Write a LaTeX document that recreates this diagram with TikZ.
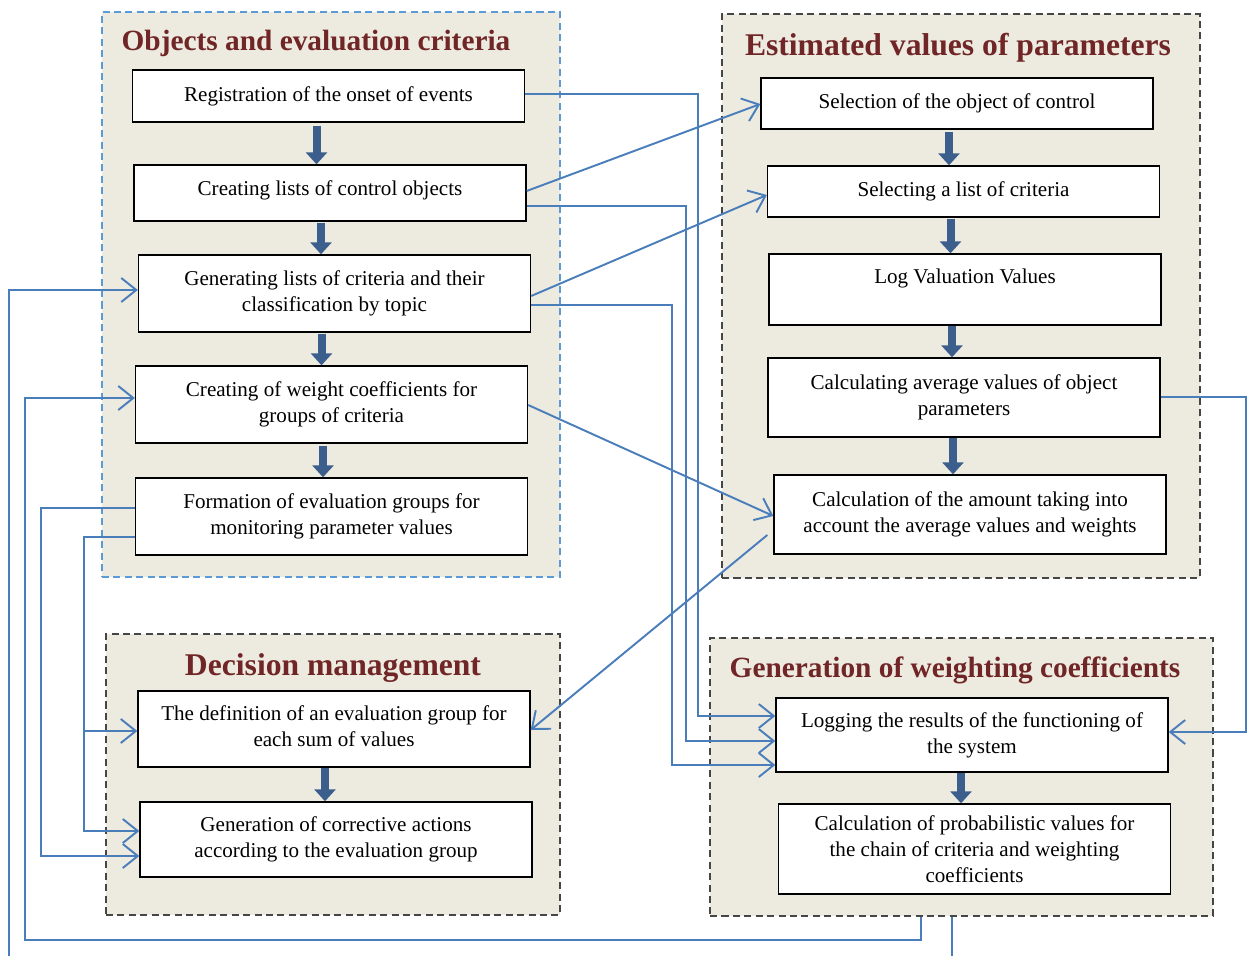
\documentclass[tikz,border=0pt]{standalone}
\usepackage{fontspec}
\setmainfont{Liberation Serif}
\usetikzlibrary{arrows.meta}

\definecolor{panel}{RGB}{237,234,224}
\definecolor{titlered}{RGB}{112,38,38}
\definecolor{flowblue}{RGB}{59,94,140}
\definecolor{linkblue}{RGB}{74,126,187}
\definecolor{frameblue}{RGB}{91,155,213}
\definecolor{framegray}{RGB}{70,70,70}

\begin{document}
\begin{tikzpicture}[x=0.02cm,y=-0.02cm]
	
	\tikzset{group/.style = {draw=framegray,dash pattern=on 4pt off 2.5pt,fill=panel,line width=0.8pt,inner sep=0pt}}
	\tikzset{title/.style = {text=titlered,font=\fontsize{16.7}{20}\selectfont\bfseries}}
	\tikzset{box/.style = {draw,fill=white,line width=0.8pt,minimum width=7.84cm,align=center,inner sep=0pt,font=\fontsize{12}{14.8}\selectfont}}
	\tikzset{flow/.style = {draw=flowblue,line width=0.16cm,-{Triangle[width=0.42cm,length=0.24cm]}}}
	\tikzset{link/.style = {draw=linkblue,line width=1.1pt,-{Straight Barb[width=0.48cm,length=0.3cm]}}}
	
	\clip (0,0) rectangle (1251,956);
	
	% panels
	\node[group,draw=frameblue,minimum width=9.16cm,minimum height=11.3cm] (g1) at (331,294.5) {};
	\node[group,minimum width=9.56cm,minimum height=11.28cm] (g2) at (961,296) {};
	\node[group,minimum width=9.08cm,minimum height=5.62cm] (g3) at (333,774.5) {};
	\node[group,minimum width=10.06cm,minimum height=5.56cm] (g4) at (961.5,777) {};
	
	\node[title] (t1) at (316,43) {Objects and evaluation criteria};
	\node[title,font=\fontsize{18}{21}\selectfont\bfseries] (t2) at (958,48) {Estimated values of parameters};
	\node[title,font=\fontsize{18}{21}\selectfont\bfseries] (t3) at (333,668) {Decision management};
	\node[title] (t4) at (955,670) {Generation of weighting coefficients};
	
	% objects and criteria
	\node[box,minimum height=1.04cm] (reg) at (328.5,96) {Registration of the onset of events};
	\node[box,minimum height=1.12cm,text depth=6pt] (lists) at (330,193) {Creating lists of control objects};
	\node[box,minimum height=1.54cm] (gen) at (334.5,293.5) {Generating lists of criteria and their\\classification by topic};
	\node[box,minimum height=1.54cm] (weight) at (331.5,404.5) {Creating of weight coefficients for\\groups of criteria};
	\node[box,minimum height=1.54cm] (form) at (331.5,516.5) {Formation of evaluation groups for\\monitoring parameter values};
	
	% estimated values
	\node[box,minimum height=1.02cm] (selobj) at (957,103.5) {Selection of the object of control};
	\node[box,minimum height=1.02cm] (sellist) at (963.5,191.5) {Selecting a list of criteria};
	\node[box,minimum height=1.42cm] (logval) at (965,289.5) {Log Valuation Values\\~};
	\node[box,minimum height=1.58cm] (avg) at (964,397.5) {Calculating average values of object\\parameters};
	\node[box,minimum height=1.58cm] (amount) at (970,514.5) {Calculation of the amount taking into\\account the average values and weights};
	
	% decisions
	\node[box,minimum height=1.52cm,text depth=3.5pt] (def) at (334,729) {The definition of an evaluation group for\\each sum of values};
	\node[box,minimum height=1.5cm] (corr) at (336,839.5) {Generation of corrective actions\\according to the evaluation group};
	
	% weighting coefficients
	\node[box,minimum height=1.48cm] (logging) at (972,735) {Logging the results of the functioning of\\the system};
	\node[box,minimum height=1.8cm] (prob) at (974.5,849) {Calculation of probabilistic values for\\the chain of criteria and weighting\\coefficients};
	
	% main flow
	\draw[flow] ([xshift=-0.24cm,yshift=-0.06cm]reg.south) -- ([xshift=-0.24cm]reg.south |- lists.north);
	\draw[flow] ([xshift=-0.18cm,yshift=-0.02cm]lists.south) -- ([xshift=-0.18cm]lists.south |- gen.north);
	\draw[flow] ([xshift=-0.26cm,yshift=-0.02cm]gen.south) -- ([xshift=-0.26cm]gen.south |- weight.north);
	\draw[flow] ([xshift=-0.17cm,yshift=-0.04cm]weight.south) -- ([xshift=-0.17cm]weight.south |- form.north);
	\draw[flow] ([xshift=-0.16cm,yshift=-0.04cm]selobj.south) -- ([xshift=-0.16cm]selobj.south |- sellist.north);
	\draw[flow] ([xshift=-0.26cm,yshift=-0.02cm]sellist.south) -- ([xshift=-0.26cm]sellist.south |- logval.north);
	\draw[flow] ([xshift=-0.26cm]logval.south) -- ([xshift=-0.26cm]logval.south |- avg.north);
	\draw[flow] ([xshift=-0.22cm]avg.south) -- ([xshift=-0.22cm]avg.south |- amount.north);
	\draw[flow] ([xshift=-0.18cm]def.south) -- ([xshift=-0.18cm]def.south |- corr.north);
	\draw[flow] ([xshift=-0.22cm]logging.south) -- ([xshift=-0.22cm]logging.south |- prob.north);
	
	% links between panels
	\draw[link] (reg.east |- 0,94) -| (698,716) -- (logging.west |- 0,716);
	\draw[link] (lists.east |- 0,191) -- (selobj.west |- 0,104);
	\draw[link] (lists.east |- 0,206) -| (686,741) -- (logging.west |- 0,741);
	\draw[link] (gen.east |- 0,296) -- (sellist.west |- 0,195);
	\draw[link] (gen.east |- 0,305) -| (672,765) -- (logging.west |- 0,765);
	\draw[link] (weight.east |- 0,405) -- (amount.west |- 0,516);
	\draw[link] ([xshift=-0.12cm]amount.west |- 0,535) -- (def.east |- 0,730);
	\draw[link] (avg.east |- 0,397) -| (1246,732) -- (logging.east |- 0,732);
	\draw[link] (form.west |- 0,508) -| (41,856) -- (corr.west |- 0,856);
	\draw[link] (form.west |- 0,537) -| (84,831) -- (corr.west |- 0,831);
	\coordinate (split) at (84,731);
	\draw[link] (split) -- (def.west |- split);
	\draw[link] (g4.south -| 921,0) -- (921,940) -| (25,398) -- (weight.west |- 0,398);
	\draw[link] (g4.south -| 952,0) -- (952,975) -| (9,290) -- (gen.west |- 0,290);
	
\end{tikzpicture}
\end{document}
